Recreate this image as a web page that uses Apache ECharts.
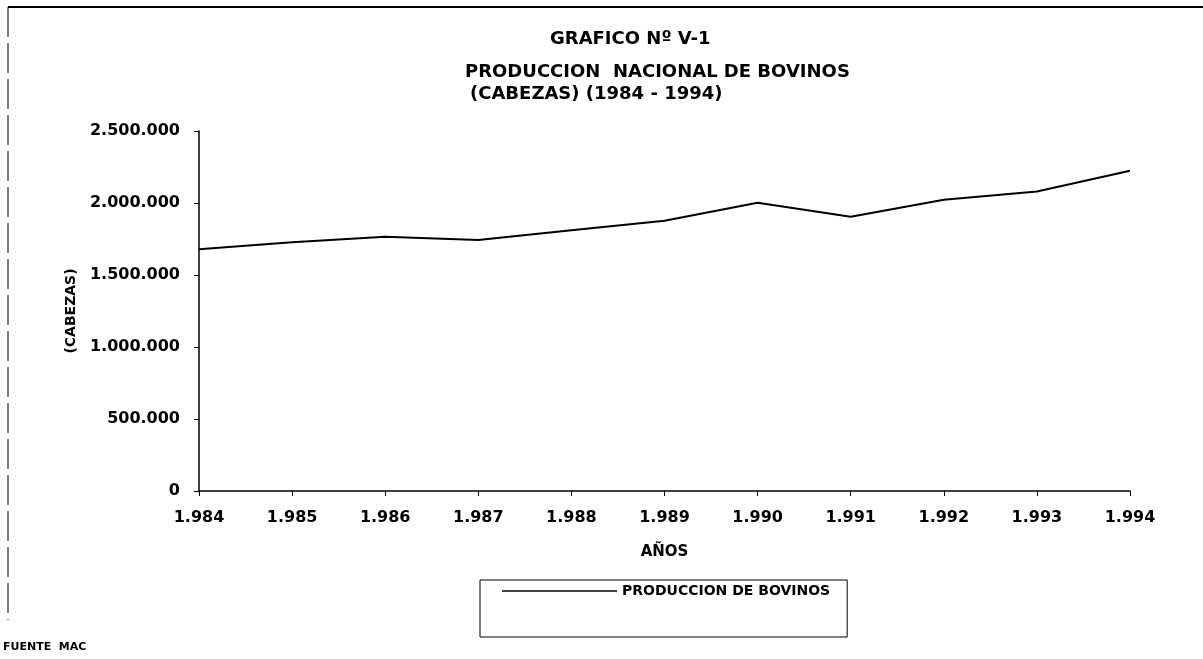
<!DOCTYPE html>
<html>
<head>
<meta charset="utf-8">
<script src="https://cdn.jsdelivr.net/npm/echarts@6/dist/echarts.min.js"></script>
<style>
  html, body { margin: 0; padding: 0; background: #fff; }
  #chart { width: 1203px; height: 659px; }
</style>
</head>
<body>
<div id="chart"></div>
<script>
// años (eje x)
var years = ['1.984', '1.985', '1.986', '1.987', '1.988', '1.989', '1.990', '1.991', '1.992', '1.993', '1.994'];
// produccion de bovinos (cabezas)
var bovinos = [1678000, 1727000, 1766000, 1743000, 1811000, 1877000, 2002000, 1905000, 2022000, 2080000, 2224000];
var yTicks = [0, 500000, 1000000, 1500000, 2000000, 2500000];

var font = 'DejaVu Sans, Liberation Sans, sans-serif';

// 2500000 -> 2.500.000
function miles(v) {
  return String(v).replace(/\B(?=(\d{3})+(?!\d))/g, '.');
}

var chart = echarts.init(document.getElementById('chart'));
chart.setOption({
  backgroundColor: '#fff',
  animation: false,
  textStyle: { fontFamily: font, color: '#000' },
  title: [
    { text: 'GRAFICO Nº V-1', left: 550, top: 30, padding: 0, textStyle: { fontFamily: font, fontSize: 18, fontWeight: 'bold', color: '#000' } },
    { text: 'PRODUCCION  NACIONAL DE BOVINOS', left: 465, top: 63, padding: 0, textStyle: { fontFamily: font, fontSize: 18, fontWeight: 'bold', color: '#000' } },
    { text: '(CABEZAS) (1984 - 1994)', left: 470, top: 85, padding: 0, textStyle: { fontFamily: font, fontSize: 18, fontWeight: 'bold', color: '#000' } },
    { text: 'FUENTE  MAC', left: 3, top: 642, padding: 0, textStyle: { fontFamily: font, fontSize: 11, fontWeight: 'bold', color: '#000' } }
  ],
  // marco de la hoja
  graphic: [
    { type: 'line', shape: { x1: 8, y1: 7, x2: 1203, y2: 7 }, style: { stroke: '#000', lineWidth: 2 } },
    { type: 'line', shape: { x1: 8, y1: 7, x2: 8, y2: 620 }, style: { stroke: '#000', lineWidth: 1, lineDash: [30, 6] } }
  ],
  legend: {
    left: 480,
    top: 580,
    orient: 'horizontal',
    icon: 'rect',
    itemWidth: 115,
    itemHeight: 1.5,
    itemGap: 10,
    padding: [4, 17, 39, 22],
    borderColor: '#000',
    borderWidth: 1,
    textStyle: { fontFamily: font, fontSize: 14, fontWeight: 'bold', color: '#000' },
    data: ['PRODUCCION DE BOVINOS']
  },
  grid: { left: 199, right: 73, top: 131, bottom: 168 },
  xAxis: {
    type: 'category',
    data: years,
    boundaryGap: false,
    name: 'AÑOS',
    nameLocation: 'middle',
    nameGap: 54,
    nameTextStyle: { fontFamily: font, fontSize: 15, fontWeight: 'bold', color: '#000' },
    axisLine: { lineStyle: { color: '#000', width: 1.5 } },
    axisTick: { alignWithLabel: true, length: 5, lineStyle: { color: '#000' } },
    axisLabel: { margin: 19, fontFamily: font, fontSize: 16, fontWeight: 'bold', color: '#000' }
  },
  yAxis: {
    type: 'value',
    min: 0,
    max: 2500000,
    interval: 500000,
    name: '(CABEZAS)',
    nameLocation: 'middle',
    nameGap: 121,
    nameRotate: 90,
    nameTextStyle: { fontFamily: font, fontSize: 14, fontWeight: 'bold', color: '#000' },
    axisLine: { show: true, lineStyle: { color: '#000', width: 1.5 } },
    axisTick: { show: true, length: 5, lineStyle: { color: '#000' } },
    splitLine: { show: false },
    axisLabel: {
      margin: 19,
      fontFamily: font,
      fontSize: 16,
      fontWeight: 'bold',
      color: '#000',
      formatter: function (v) { return yTicks.indexOf(v) >= 0 ? miles(v) : ''; }
    }
  },
  series: [{
    name: 'PRODUCCION DE BOVINOS',
    type: 'line',
    data: bovinos,
    showSymbol: false,
    symbol: 'none',
    lineStyle: { color: '#000', width: 2 },
    itemStyle: { color: '#000' }
  }]
});
</script>
</body>
</html>
